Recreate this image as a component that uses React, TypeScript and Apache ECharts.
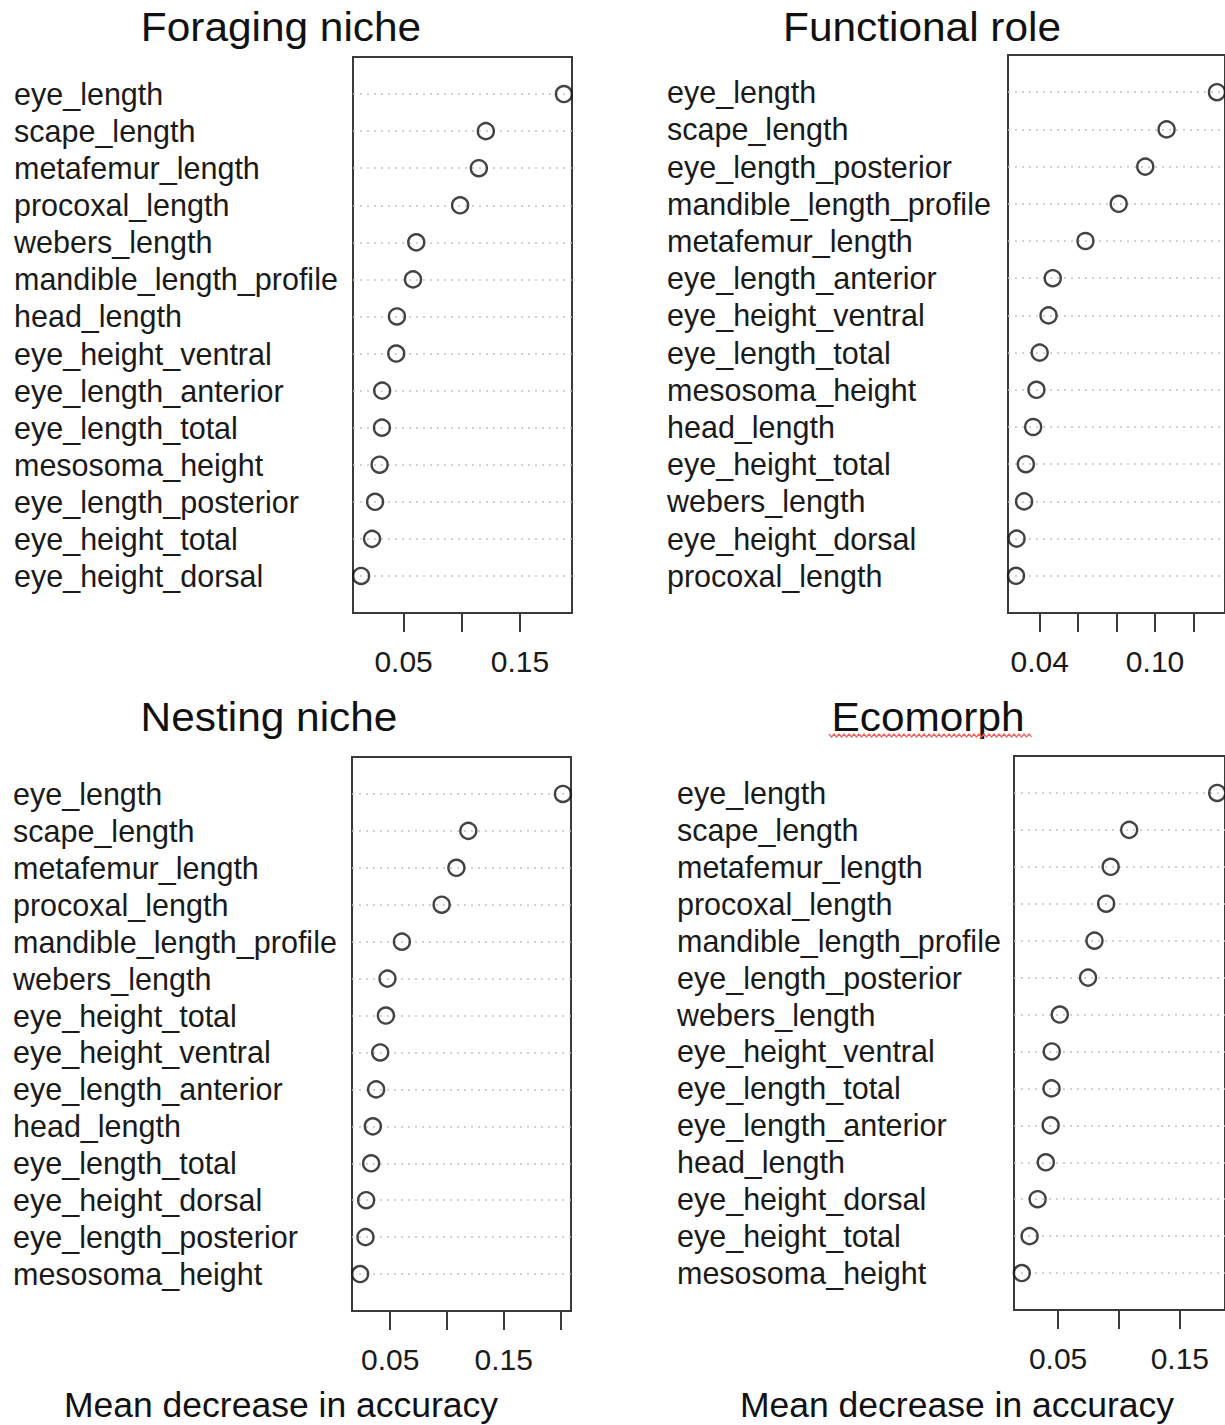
import React, { useEffect, useRef } from "react";
import * as echarts from "echarts";

// ---------- data ----------
const foragingLabels = ["eye_length", "scape_length", "metafemur_length", "procoxal_length", "webers_length", "mandible_length_profile", "head_length", "eye_height_ventral", "eye_length_anterior", "eye_length_total", "mesosoma_height", "eye_length_posterior", "eye_height_total", "eye_height_dorsal"];
const foragingValues = [0.1878, 0.1207, 0.1147, 0.0986, 0.0609, 0.0581, 0.0443, 0.0437, 0.0316, 0.0314, 0.0294, 0.0255, 0.0229, 0.0135];

const functionalLabels = ["eye_length", "scape_length", "eye_length_posterior", "mandible_length_profile", "metafemur_length", "eye_length_anterior", "eye_height_ventral", "eye_length_total", "mesosoma_height", "head_length", "eye_height_total", "webers_length", "eye_height_dorsal", "procoxal_length"];
const functionalValues = [0.1322, 0.106, 0.0949, 0.0811, 0.0638, 0.0468, 0.0446, 0.04, 0.0383, 0.0366, 0.0328, 0.0319, 0.028, 0.0277];

const nestingLabels = ["eye_length", "scape_length", "metafemur_length", "procoxal_length", "mandible_length_profile", "webers_length", "eye_height_total", "eye_height_ventral", "eye_length_anterior", "head_length", "eye_length_total", "eye_height_dorsal", "eye_length_posterior", "mesosoma_height"];
const nestingValues = [0.2021, 0.1188, 0.1083, 0.0953, 0.0603, 0.0476, 0.0462, 0.0412, 0.0376, 0.0347, 0.0332, 0.0288, 0.0282, 0.0235];

const ecomorphLabels = ["eye_length", "scape_length", "metafemur_length", "procoxal_length", "mandible_length_profile", "eye_length_posterior", "webers_length", "eye_height_ventral", "eye_length_total", "eye_length_anterior", "head_length", "eye_height_dorsal", "eye_height_total", "mesosoma_height"];
const ecomorphValues = [0.1807, 0.1084, 0.0932, 0.0895, 0.0799, 0.0746, 0.0514, 0.0448, 0.0446, 0.0439, 0.0399, 0.0332, 0.0266, 0.0202];

const foragingTicks = [0.05, 0.1, 0.15];
const foragingTickLabels = [0.05, 0.15];
const functionalTicks = [0.04, 0.06, 0.08, 0.1, 0.12];
const functionalTickLabels = [0.04, 0.1];
const nestingTicks = [0.05, 0.1, 0.15, 0.2];
const nestingTickLabels = [0.05, 0.15];
const ecomorphTicks = [0.05, 0.1, 0.15];
const ecomorphTickLabels = [0.05, 0.15];

const panelTitles = ["Foraging niche", "Functional role", "Nesting niche", "Ecomorph"];
const xAxisTitle = "Mean decrease in accuracy";

// ---------- layout ----------
const FONT = "'Liberation Sans', Arial, Helvetica, sans-serif";
const panels = [
  { labels: foragingLabels, values: foragingValues, ticks: foragingTicks, tickLabels: foragingTickLabels, grid: { left: 353, top: 57, width: 219, height: 556 }, labelX: 14, title: { x: 281, base: 41 } },
  { labels: functionalLabels, values: functionalValues, ticks: functionalTicks, tickLabels: functionalTickLabels, grid: { left: 1008, top: 55, width: 219, height: 558 }, labelX: 667, title: { x: 922, base: 41 } },
  { labels: nestingLabels, values: nestingValues, ticks: nestingTicks, tickLabels: nestingTickLabels, grid: { left: 352, top: 757, width: 219, height: 554 }, labelX: 13, title: { x: 269, base: 731 } },
  { labels: ecomorphLabels, values: ecomorphValues, ticks: ecomorphTicks, tickLabels: ecomorphTickLabels, grid: { left: 1014, top: 756, width: 217, height: 554 }, labelX: 677, title: { x: 928, base: 731 } },
];
const xlabPos = [
  { x: 281, y: 1405 },
  { x: 957, y: 1405 },
];

function buildOption() {
  const grids: any[] = [];
  const xAxes: any[] = [];
  const yAxes: any[] = [];
  const series: any[] = [];
  const graphics: any[] = [];

  panels.forEach((p, i) => {
    const lo = Math.min(...p.values);
    const hi = Math.max(...p.values);
    const ext = (hi - lo) * 0.04;
    grids.push({
      left: p.grid.left,
      top: p.grid.top,
      width: p.grid.width,
      height: p.grid.height,
      show: true,
      borderColor: "#3a3a3a",
      borderWidth: 2,
      backgroundColor: "transparent",
      containLabel: false,
    });
    xAxes.push({
      type: "value",
      gridIndex: i,
      position: "bottom",
      min: lo - ext,
      max: hi + ext,
      axisLine: { show: false, onZero: false },
      splitLine: { show: false },
      axisTick: {
        show: true,
        length: 19,
        customValues: p.ticks,
        lineStyle: { color: "#3a3a3a", width: 2 },
      },
      axisLabel: {
        show: true,
        customValues: p.tickLabels,
        formatter: (v: number) => v.toFixed(2),
        fontSize: 30,
        fontFamily: FONT,
        color: "#1a1a1a",
        margin: 33,
      },
    });
    yAxes.push({
      type: "value",
      gridIndex: i,
      inverse: true,
      min: 0,
      max: p.labels.length + 1,
      interval: 1,
      axisLine: { show: false },
      axisTick: { show: false },
      splitLine: {
        show: true,
        showMinLine: false,
        showMaxLine: false,
        lineStyle: { color: "#c4c4c4", type: [2, 5], width: 1.5 },
      },
      axisLabel: {
        show: true,
        align: "left",
        margin: p.grid.left - p.labelX,
        fontSize: 30.5,
        fontFamily: FONT,
        color: "#1a1a1a",
        formatter: (v: number) => p.labels[v - 1] ?? "",
      },
    });
    series.push({
      type: "scatter",
      xAxisIndex: i,
      yAxisIndex: i,
      symbol: "circle",
      symbolSize: 16,
      itemStyle: { color: "rgba(255,255,255,0)", borderColor: "#141414", borderWidth: 2.4 },
      data: p.values.map((v, k) => [v, k + 1]),
      clip: false,
    });
    const fs = 40;
    graphics.push({
      type: "text",
      x: p.title.x,
      y: p.title.base - 0.35 * fs,
      scaleX: 1.06,
      style: {
        text: panelTitles[i],
        fontSize: fs,
        fontFamily: FONT,
        fill: "#111",
        align: "center",
        verticalAlign: "middle",
      },
    });
  });

  xlabPos.forEach((pos) => {
    graphics.push({
      type: "text",
      x: pos.x,
      y: pos.y,
      style: {
        text: xAxisTitle,
        fontSize: 35.5,
        fontFamily: FONT,
        fill: "#111",
        align: "center",
        verticalAlign: "middle",
      },
    });
  });

  // spell-check style wavy underline under "Ecomorph"
  const wave: number[][] = [];
  for (let x = 829, k = 0; x <= 1032; x += 2.5, k++) {
    wave.push([x, k % 2 === 0 ? 734 : 737]);
  }
  graphics.push({
    type: "polyline",
    shape: { points: wave },
    style: { stroke: "#f06060", lineWidth: 1.2, fill: null },
  });

  return {
    animation: false,
    backgroundColor: "#ffffff",
    grid: grids,
    xAxis: xAxes,
    yAxis: yAxes,
    series,
    graphic: graphics,
  };
}

export default function App() {
  const ref = useRef<HTMLDivElement>(null);
  useEffect(() => {
    if (!ref.current) return;
    const chart = echarts.init(ref.current, undefined, { renderer: "svg" });
    chart.setOption(buildOption() as any);
    return () => chart.dispose();
  }, []);
  return (
    <div
      ref={ref}
      style={{ position: "absolute", left: 0, top: 0, width: 1225, height: 1425 }}
    />
  );
}
